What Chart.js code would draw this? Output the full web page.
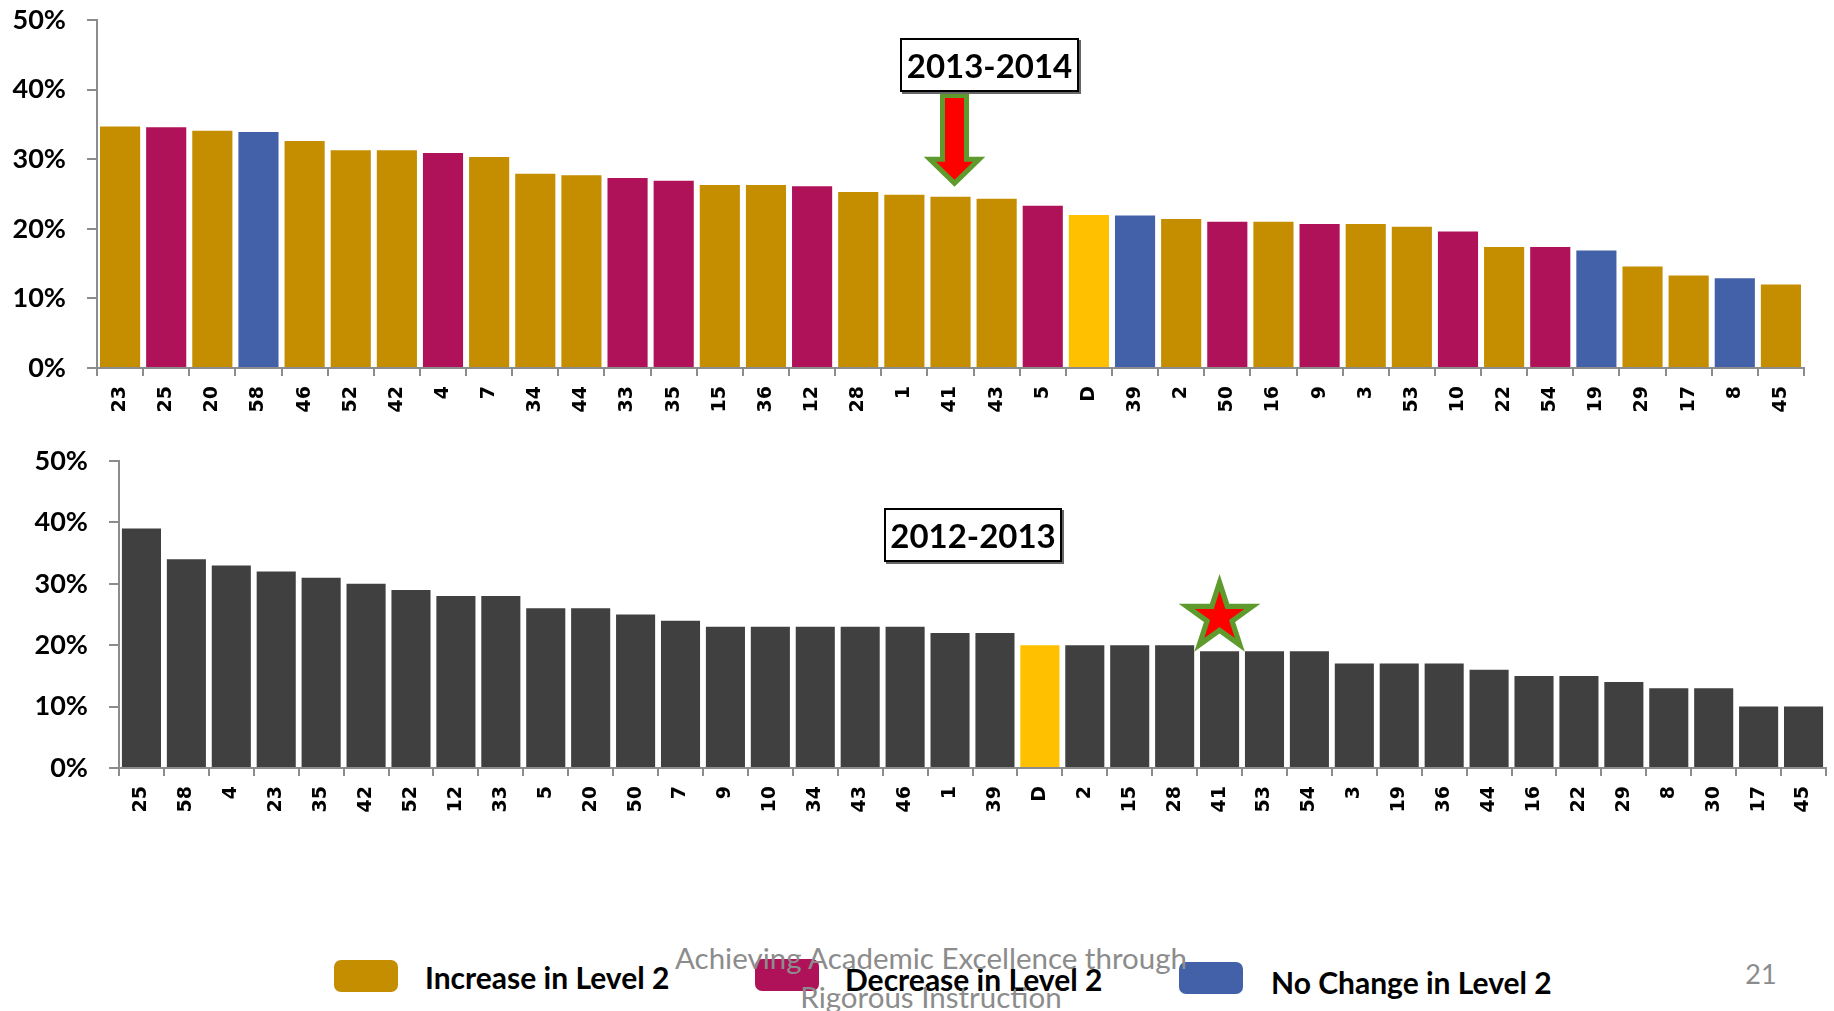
<!DOCTYPE html>
<html>
<head>
<meta charset="utf-8">
<script src="https://cdn.jsdelivr.net/npm/chart.js@4.4.1/dist/chart.umd.min.js"></script>
<style>
  html, body { margin: 0; padding: 0; background: #fff; }
  #page { position: relative; width: 1834px; height: 1011px; overflow: hidden; background: #fff; font-family: Lato, sans-serif; }
  canvas { position: absolute; left: 0; }
  .yearBox {
    position: absolute; box-sizing: border-box; border: 2px solid #000; background: #fff;
    font: bold 33px Lato, sans-serif; color: #000;
    display: flex; align-items: center; justify-content: center;
    box-shadow: 2px 2px 0 #666;
  }
  .swatch { position: absolute; border-radius: 7px; }
  .legText { position: absolute; font: bold 30px Lato, sans-serif; color: #000; white-space: nowrap; line-height: 1; transform: translateY(-50%); }
  .footer { position: absolute; font: 29.5px Lato, sans-serif; color: #8c8c8c; white-space: nowrap; line-height: 1; transform: translate(-50%, -50%); }
</style>
</head>
<body>
<div id="page">
  <canvas id="chart2014" width="1834" height="430" style="top:0px"></canvas>
  <canvas id="chart2013" width="1834" height="380" style="top:440px"></canvas>

  <div class="yearBox" style="left:900px; top:38px; width:179px; height:54px;">2013-2014</div>
  <div class="yearBox" style="left:884px; top:508px; width:178px; height:54px;">2012-2013</div>

  <div id="legend"></div>

  <div class="footer" style="left:931px; top:958px;">Achieving Academic Excellence through</div>
  <div class="footer" style="left:931px; top:997px;">Rigorous Instruction</div>
  <div class="footer" style="left:1761px; top:973px; font-size:27px;">21</div>
</div>

<script>
// 2013-2014 school rankings (percent of students at Level 2)
const schools2014 = ["23","25","20","58","46","52","42","4","7","34","44","33","35","15","36","12","28","1","41","43","5","D","39","2","50","16","9","3","53","10","22","54","19","29","17","8","45"];
const level2_2014 = [34.7,34.6,34.1,33.9,32.6,31.3,31.3,30.9,30.3,27.9,27.7,27.3,26.9,26.3,26.3,26.1,25.3,24.9,24.6,24.3,23.3,22.0,21.9,21.4,21.0,21.0,20.7,20.7,20.3,19.6,17.4,17.4,16.9,14.6,13.3,12.9,12.0];
const change2014 = ["up","down","up","same","up","up","up","down","up","up","up","down","down","up","up","down","up","up","up","up","down","district","same","up","down","up","down","up","up","down","up","down","same","up","up","same","up"];

// 2012-2013 school rankings
const schools2013 = ["25","58","4","23","35","42","52","12","33","5","20","50","7","9","10","34","43","46","1","39","D","2","15","28","41","53","54","3","19","36","44","16","22","29","8","30","17","45"];
const level2_2013 = [39,34,33,32,31,30,29,28,28,26,26,25,24,23,23,23,23,23,22,22,20,20,20,20,19,19,19,17,17,17,16,15,15,14,13,13,10,10];

const yTicks = [0, 10, 20, 30, 40, 50];
const legendLabels = ["Increase in Level 2", "Decrease in Level 2", "No Change in Level 2"];
const highlightSchool = "41";

const colors = {
  up: "#C48E00",
  down: "#B0125A",
  same: "#4361A9",
  district: "#FFC000",
  prior: "#404040",
};
const axisGray = "#8c8c8c";
const green = "#5E9A2C";

// red arrow with green outline, pointing down at school 41
const arrowPlugin = {
  id: "arrow41",
  afterDatasetsDraw(chart) {
    const { ctx, scales: { x, y } } = chart;
    const i = schools2014.indexOf(highlightSchool);
    const cx = x.getPixelForValue(i) + 4;
    const tip = y.getPixelForValue(level2_2014[i]) - 17;
    const top = 98, base = tip - 18, sw = 9.5, hw = 18.5;
    ctx.save();
    ctx.beginPath();
    ctx.moveTo(cx - sw, top);
    ctx.lineTo(cx + sw, top);
    ctx.lineTo(cx + sw, base);
    ctx.lineTo(cx + hw, base);
    ctx.lineTo(cx, tip);
    ctx.lineTo(cx - hw, base);
    ctx.lineTo(cx - sw, base);
    ctx.closePath();
    ctx.lineJoin = "miter";
    ctx.lineWidth = 10;
    ctx.strokeStyle = green;
    ctx.stroke();
    ctx.fillStyle = "#FF0000";
    ctx.fill();
    ctx.restore();
  },
};

// red star with green outline sitting on school 41
const starPlugin = {
  id: "star41",
  afterDatasetsDraw(chart) {
    const { ctx, scales: { x, y } } = chart;
    const i = schools2013.indexOf(highlightSchool);
    const cx = x.getPixelForValue(i);
    const R = 26, r = R * 0.382;
    const cy = y.getPixelForValue(level2_2013[i]) - 0.809 * (R + 16.5);
    ctx.save();
    ctx.beginPath();
    for (let k = 0; k < 10; k++) {
      const rad = k % 2 === 0 ? R : r;
      const a = -Math.PI / 2 + k * Math.PI / 5;
      const px = cx + rad * Math.cos(a), py = cy + rad * Math.sin(a);
      if (k === 0) ctx.moveTo(px, py); else ctx.lineTo(px, py);
    }
    ctx.closePath();
    ctx.lineJoin = "miter";
    ctx.miterLimit = 10;
    ctx.lineWidth = 10.5;
    ctx.strokeStyle = green;
    ctx.stroke();
    ctx.fillStyle = "#FF0000";
    ctx.fill();
    ctx.restore();
  },
};

function makeChart(id, labels, values, barColors, opts) {
  const ctx = document.getElementById(id).getContext("2d");
  return new Chart(ctx, {
    type: "bar",
    data: {
      labels: labels,
      datasets: [
        {
          data: values,
          backgroundColor: barColors,
          borderWidth: 0,
          barPercentage: 0.87,
          categoryPercentage: 1.0,
        },
      ],
    },
    options: {
      responsive: false,
      animation: false,
      layout: { padding: opts.padding },
      scales: {
        x: {
          grid: { display: true, drawOnChartArea: false, drawTicks: true, tickLength: 8, color: axisGray, lineWidth: 2, offset: true },
          border: { display: true, color: axisGray, width: 2 },
          ticks: {
            autoSkip: false, maxRotation: 90, minRotation: 90, padding: 10, color: "#000",
            font: { family: "DejaVu Sans", weight: "bold", size: 19 },
          },
          afterFit: (s) => {
            s.height = opts.xHeight;
            s.paddingLeft = 0;
            s.paddingRight = 0;
          },
        },
        y: {
          min: 0,
          max: 50,
          grid: { display: true, drawOnChartArea: false, drawTicks: true, tickLength: 10, color: axisGray, lineWidth: 2 },
          border: { display: true, color: axisGray, width: 2 },
          ticks: {
            padding: 21, color: "#000",
            font: { family: "Lato", weight: "bold", size: 27 },
            callback: (v) => v + "%",
          },
          afterBuildTicks: (s) => { s.ticks = yTicks.map((v) => ({ value: v })); },
          afterFit: (s) => {
            s.width = opts.yWidth;
            s.paddingTop = 0;
            s.paddingBottom = 0;
          },
        },
      },
      plugins: {
        legend: { display: false },
        tooltip: { enabled: false },
        title: { display: false },
      },
    },
    plugins: opts.plugins,
  });
}

makeChart("chart2014", schools2014, level2_2014, change2014.map((c) => colors[c]), {
  padding: { top: 20, right: 30, left: 0, bottom: 0 },
  xHeight: 62,
  yWidth: 97,
  plugins: [arrowPlugin],
});

makeChart("chart2013", schools2013, level2_2013, schools2013.map((s) => (s === "D" ? colors.district : colors.prior)), {
  padding: { top: 21, right: 8, left: 0, bottom: 0 },
  xHeight: 52,
  yWidth: 119,
  plugins: [starPlugin],
});

// legend at the bottom of the slide
const legendItems = [
  { label: legendLabels[0], color: colors.up, sx: 334, sy: 960, tx: 425, ty: 977 },
  { label: legendLabels[1], color: colors.down, sx: 755, sy: 959, tx: 845, ty: 979 },
  { label: legendLabels[2], color: colors.same, sx: 1179, sy: 962, tx: 1271, ty: 982 },
];
const legend = document.getElementById("legend");
legendItems.forEach((it) => {
  const sw = document.createElement("div");
  sw.className = "swatch";
  sw.style.cssText = `left:${it.sx}px; top:${it.sy}px; width:64px; height:32px; background:${it.color};`;
  legend.appendChild(sw);
  const t = document.createElement("div");
  t.className = "legText";
  t.style.left = it.tx + "px";
  t.style.top = it.ty + "px";
  t.textContent = it.label;
  legend.appendChild(t);
});
</script>
</body>
</html>
